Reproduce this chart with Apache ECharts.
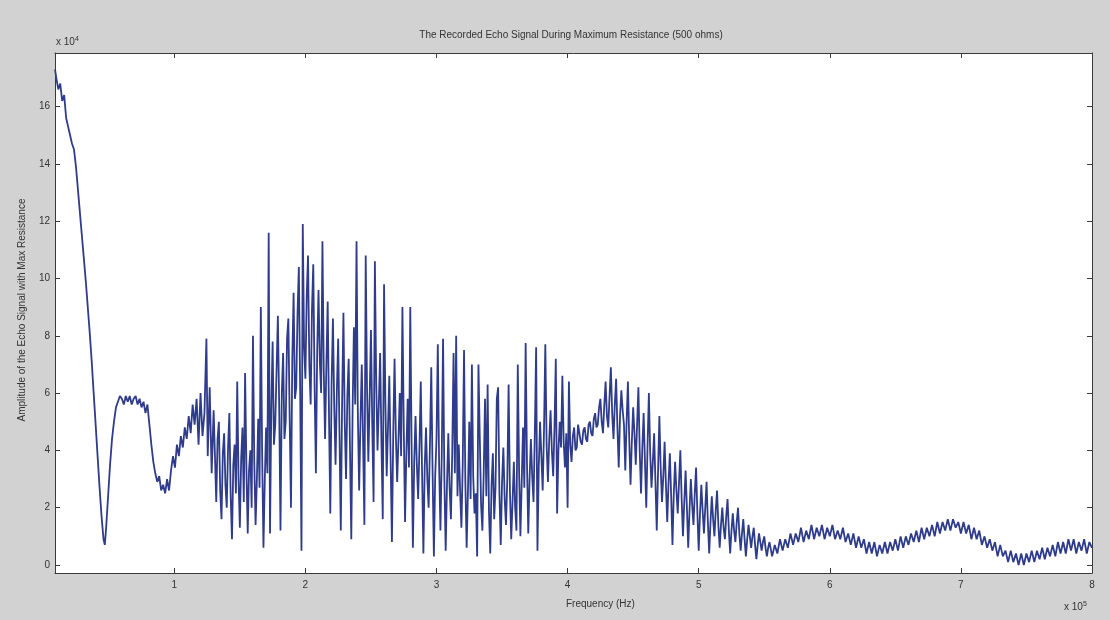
<!DOCTYPE html>
<html>
<head>
<meta charset="utf-8">
<script src="https://cdn.jsdelivr.net/npm/echarts@6/dist/echarts.min.js"></script>
<style>
html,body{margin:0;padding:0;background:#d2d2d2;}
#chart{width:1110px;height:620px;}
</style>
</head>
<body>
<div id="chart"></div>
<script>
// [frequency (x 10^5 Hz), amplitude (x 10^4)], in segments
const onsetSegment = [
[0.09,17.3],[0.10,17.0],[0.115,16.6],[0.13,16.8],[0.145,16.2],[0.16,16.4],[0.175,15.6],[0.19,15.3],[0.205,15.0],[0.22,14.7],
[0.235,14.5],[0.25,13.9],[0.265,13.1],[0.28,12.3],[0.295,11.5],[0.31,10.7],[0.325,9.9],[0.34,9.0],[0.355,8.1],[0.37,7.1],
[0.385,6.0],[0.40,4.9],[0.415,3.8],[0.43,2.7],[0.445,1.7],[0.46,0.9],[0.47,0.7],[0.48,1.3],[0.495,2.4],[0.51,3.5],
[0.525,4.4],[0.54,5.0],[0.555,5.5],[0.57,5.7],[0.585,5.9],[0.60,5.8],[0.615,5.6],[0.63,5.9],[0.645,5.7],[0.66,5.9],
[0.675,5.6],[0.69,5.8],[0.705,5.9],[0.72,5.6],[0.735,5.8],[0.75,5.5],[0.765,5.7],[0.78,5.3],[0.795,5.6],[0.81,4.9],
[0.825,4.2],[0.84,3.6],[0.855,3.2],[0.87,2.9],[0.885,3.1],[0.90,2.6],[0.915,2.8],[0.93,2.5],[0.945,3.0],[0.96,2.6],
[0.975,3.3],[0.99,3.8],[1.005,3.4],[1.02,4.2],[1.035,3.8],[1.05,4.5],[1.065,4.1],[1.08,4.8],[1.095,4.4],[1.11,5.2],
[1.125,4.6],[1.14,5.6],[1.155,4.9],[1.17,5.8],[1.185,4.2],[1.20,6.0],[1.215,4.5],[1.23,5.3],[1.245,7.9],[1.255,3.8],
[1.27,6.2],[1.285,3.2],[1.30,5.4]
];
const denseSegment = [
[1.31,3.8],[1.32,2.2],[1.33,4.4],[1.34,5.0],[1.35,2.6],[1.36,1.6],[1.37,3.9],[1.38,4.6],[1.39,2.8],[1.40,2.0],
[1.41,4.1],[1.42,5.3],[1.43,2.4],[1.44,0.9],[1.45,3.5],[1.46,4.2],[1.47,2.5],[1.48,6.4],[1.49,3.0],[1.50,1.3],
[1.51,3.7],[1.52,4.8],[1.53,2.2],[1.54,6.7],[1.55,3.4],[1.56,1.1],[1.57,3.3],[1.58,4.0],[1.59,2.0],[1.60,8.0],
[1.61,3.6],[1.62,1.4],[1.63,3.0],[1.64,5.1],[1.65,2.7],[1.66,9.0],[1.67,3.9],[1.68,0.6],[1.69,2.9],[1.70,4.8],
[1.71,3.2],[1.72,11.6],[1.73,1.1],[1.74,5.5],[1.75,7.8],[1.76,4.2],[1.77,4.9],[1.78,6.8],[1.79,8.7],[1.80,5.6],
[1.81,1.2],[1.82,6.0],[1.83,7.4],[1.84,4.4],[1.85,5.0],[1.86,7.9],[1.87,8.6],[1.88,5.1],[1.89,2.0],[1.90,7.2],
[1.91,9.5],[1.92,5.8],[1.93,6.2],[1.94,8.8],[1.95,10.4],[1.96,6.1],[1.97,0.5],[1.98,11.9],[1.99,7.6],[2.00,6.5],
[2.01,9.4],[2.02,10.8],[2.03,7.0],[2.04,5.6],[2.05,8.9],[2.06,10.5],[2.07,6.3],[2.08,3.2],[2.09,7.5],[2.10,9.6],
[2.11,7.1],[2.12,6.0],[2.13,11.3],[2.14,6.8],[2.15,4.4],[2.16,7.0],[2.17,9.2],[2.18,5.2],[2.19,1.8],[2.20,6.4],
[2.21,8.6],[2.22,5.5],[2.23,3.5],[2.24,6.1],[2.25,7.9],[2.26,4.6],[2.27,1.2],[2.28,5.7],[2.29,8.8],[2.30,5.0],
[2.31,3.0],[2.32,5.9],[2.33,7.2],[2.34,4.1],[2.35,0.9],[2.36,5.4],[2.37,8.3],[2.38,5.6],[2.39,11.3],[2.40,5.3],
[2.41,2.6],[2.42,5.0],[2.43,7.0],[2.44,4.3],[2.45,1.4],[2.46,10.8],[2.47,6.2],[2.48,3.6],[2.49,5.8],[2.50,8.2],
[2.51,4.9],[2.52,2.2],[2.53,10.6],[2.54,6.4],[2.55,4.0],[2.56,5.6],[2.57,7.4],[2.58,4.3],[2.59,1.6],[2.60,9.8],
[2.61,5.7],[2.62,3.1],[2.63,4.8],[2.64,6.6],[2.65,3.7],[2.66,0.8],[2.67,4.6],[2.68,7.2],[2.69,4.5],[2.70,2.9],
[2.71,4.4],[2.72,6.0],[2.73,3.8],[2.74,9.0],[2.75,4.9],[2.76,1.5],[2.77,3.9],[2.78,5.8],[2.79,3.4],[2.80,9.0],
[2.81,4.2],[2.82,0.6],[2.83,3.6],[2.84,5.2],[2.85,3.5],[2.86,2.3],[2.87,4.1],[2.88,6.4],[2.89,3.2],[2.90,0.4],
[2.91,3.4],[2.92,4.8],[2.93,3.0],[2.94,2.0],[2.95,4.2],[2.96,6.9],[2.97,3.3],[2.98,0.3],[2.99,3.1],[3.00,4.4],
[3.01,7.7],[3.02,3.5],[3.03,1.2],[3.04,3.8],[3.05,7.9],[3.06,3.0],[3.07,0.5],[3.08,2.8],[3.09,4.6],[3.10,2.7],
[3.11,1.6],[3.12,3.9],[3.13,7.4],[3.14,3.2],[3.15,8.0],[3.16,2.4],[3.17,4.2],[3.18,2.6],[3.19,1.3],[3.20,3.5],
[3.21,7.5],[3.22,2.9],[3.23,0.6],[3.24,2.6],[3.25,5.0],[3.26,2.3],[3.27,7.0],[3.28,3.1],[3.29,1.8],[3.30,2.5],
[3.31,0.3],[3.32,7.0],[3.33,4.5],[3.34,2.1],[3.35,1.2],[3.36,3.2],[3.37,5.8],[3.38,2.4],[3.39,6.3],[3.40,1.9],
[3.41,0.4],[3.42,2.8],[3.43,3.9],[3.44,1.6],[3.45,2.7],[3.46,5.8],[3.47,6.2],[3.48,2.5],[3.49,0.7],[3.50,2.9],
[3.51,4.1],[3.52,2.3],[3.53,1.4],[3.54,3.0],[3.55,6.3],[3.56,2.6],[3.57,0.9],[3.58,2.2],[3.59,3.6],[3.60,2.0],
[3.61,1.2],[3.62,7.0],[3.63,3.3],[3.64,1.0],[3.65,2.9],[3.66,4.8],[3.67,2.7],[3.68,7.75],[3.69,3.6],[3.70,1.1],
[3.71,3.0],[3.72,4.4],[3.73,3.1],[3.74,2.2],[3.75,4.6],[3.76,7.6],[3.77,0.5],[3.78,3.4],[3.79,5.0],[3.80,3.8],
[3.81,2.6],[3.82,4.7],[3.83,7.7],[3.84,4.2],[3.85,2.9],[3.86,4.4],[3.87,5.4],[3.88,4.0],[3.89,3.1],[3.90,4.8],
[3.91,7.2],[3.92,1.8],[3.93,4.0],[3.94,5.0],[3.95,4.1],[3.96,6.6],[3.97,4.3],[3.98,3.4],[3.99,4.6],[4.00,2.0]
];
const decaySegment = [
[4.01,6.4],[4.02,4.2],[4.03,3.6],[4.04,4.5],[4.05,4.8],[4.06,4.0],[4.07,4.1],[4.08,4.9],[4.09,4.6],[4.10,4.3],
[4.11,4.2],[4.12,4.7],[4.13,4.8],[4.14,4.4],[4.15,4.3],[4.16,4.9],[4.17,5.0],[4.18,4.6],[4.19,4.5],[4.20,5.1],
[4.21,5.3],[4.22,4.8],[4.23,4.9],[4.24,5.5],[4.25,5.8],[4.26,5.0],[4.27,4.6],[4.28,5.6],[4.29,6.4],[4.30,5.2],
[4.31,4.8],[4.32,5.9],[4.33,6.9],[4.34,5.3],[4.35,4.4],[4.36,5.6],[4.37,6.5],[4.38,4.8],[4.39,3.4],[4.40,5.2],
[4.41,6.1],[4.42,5.4],[4.43,4.9],[4.44,3.3],[4.45,5.0],[4.46,6.4],[4.47,4.4],[4.48,2.8],[4.49,4.3],[4.50,5.5],
[4.51,4.6],[4.52,3.5],[4.53,4.9],[4.54,6.2],[4.55,4.0],[4.56,2.5],[4.57,4.1],[4.58,5.3],[4.59,3.6],[4.60,2.0],
[4.61,4.2],[4.62,6.0],[4.63,3.9],[4.64,2.7],[4.65,3.6],[4.66,4.6],[4.67,2.9],[4.68,1.2],[4.69,3.3],[4.70,5.2],
[4.71,3.4],[4.72,2.2],[4.73,3.1],[4.74,4.3],[4.75,2.8],[4.76,1.5],[4.77,2.9],[4.78,3.9],[4.79,2.4],[4.80,0.7],
[4.81,2.5],[4.82,3.6],[4.83,2.6],[4.84,1.8],[4.85,2.9],[4.86,4.0],[4.87,2.3],[4.88,1.0],[4.89,2.2],[4.90,3.3],
[4.91,2.0],[4.92,0.6],[4.93,1.9],[4.94,3.0],[4.95,2.1],[4.96,1.4],[4.97,2.5],[4.98,3.4],[4.99,1.8],[5.00,0.5],
[5.01,1.8],[5.02,2.8],[5.03,1.9],[5.04,1.1],[5.05,2.0],[5.06,2.9],[5.07,1.5],[5.08,0.4],[5.09,1.5],[5.10,2.4],
[5.11,1.6],[5.12,1.0],[5.13,1.9],[5.14,2.6],[5.15,1.4],[5.16,0.6],[5.17,1.4],[5.18,2.0],[5.19,1.3],[5.20,0.9],
[5.21,1.7],[5.22,2.3],[5.23,1.2],[5.24,0.4],[5.25,1.2],[5.26,1.8],[5.27,1.2],[5.28,0.8],[5.29,1.5],[5.30,2.0],
[5.31,1.1],[5.32,0.5],[5.33,1.1],[5.34,1.6],[5.35,0.9],[5.36,0.3],[5.37,0.9],[5.38,1.4],[5.39,1.0],[5.40,0.6],
[5.41,1.0],[5.42,1.3],[5.43,0.7],[5.44,0.2],[5.45,0.7],[5.46,1.1],[5.47,0.8],[5.48,0.5],[5.49,0.8],[5.50,1.0],
[5.51,0.6],[5.52,0.3],[5.53,0.6],[5.54,0.8]
];
const tailSegment = [
[5.56,0.3],[5.58,0.7],[5.60,0.4],[5.62,0.9],[5.64,0.5],[5.66,0.9],[5.68,0.6],[5.70,1.1],[5.72,0.7],[5.74,1.1],
[5.76,0.8],[5.78,1.3],[5.80,0.8],[5.82,1.2],[5.84,0.9],[5.86,1.4],[5.88,0.9],[5.90,1.3],[5.92,1.0],[5.94,1.4],
[5.96,0.9],[5.98,1.3],[6.00,1.0],[6.02,1.4],[6.04,0.9],[6.06,1.2],[6.08,0.9],[6.10,1.3],[6.12,0.8],[6.14,1.1],
[6.16,0.7],[6.18,1.1],[6.20,0.6],[6.22,1.0],[6.24,0.6],[6.26,0.9],[6.28,0.4],[6.30,0.8],[6.32,0.4],[6.34,0.8],
[6.36,0.3],[6.38,0.7],[6.40,0.4],[6.42,0.8],[6.44,0.4],[6.46,0.8],[6.48,0.5],[6.50,0.9],[6.52,0.5],[6.54,1.0],
[6.56,0.6],[6.58,1.0],[6.60,0.7],[6.62,1.1],[6.64,0.8],[6.66,1.2],[6.68,0.8],[6.70,1.3],[6.72,0.9],[6.74,1.3],
[6.76,1.0],[6.78,1.4],[6.80,1.0],[6.82,1.5],[6.84,1.1],[6.86,1.5],[6.88,1.2],[6.90,1.6],[6.92,1.2],[6.94,1.6],
[6.96,1.3],[6.98,1.5],[7.00,1.1],[7.02,1.5],[7.04,1.1],[7.06,1.4],[7.08,0.9],[7.10,1.3],[7.12,0.9],[7.14,1.2],
[7.16,0.7],[7.18,1.0],[7.20,0.6],[7.22,0.9],[7.24,0.5],[7.26,0.8],[7.28,0.3],[7.30,0.7],[7.32,0.3],[7.34,0.5],
[7.36,0.1],[7.38,0.5],[7.40,0.1],[7.42,0.4],[7.44,0.0],[7.46,0.4],[7.48,0.0],[7.50,0.4],[7.52,0.1],[7.54,0.5],
[7.56,0.1],[7.58,0.5],[7.60,0.2],[7.62,0.6],[7.64,0.2],[7.66,0.6],[7.68,0.3],[7.70,0.7],[7.72,0.3],[7.74,0.8],
[7.76,0.4],[7.78,0.8],[7.80,0.4],[7.82,0.9],[7.84,0.5],[7.86,0.9],[7.88,0.4],[7.90,0.8],[7.92,0.5],[7.94,0.9],
[7.96,0.4],[7.98,0.8],[8.00,0.6]
];
const xTicks = [1,2,3,4,5,6,7,8];
const yTicks = [0,2,4,6,8,10,12,14,16];
const titleText = 'The Recorded Echo Signal During Maximum Resistance (500 ohms)';
const xName = 'Frequency (Hz)';
const yName = 'Amplitude of the Echo Signal with Max Resistance';

const points = onsetSegment.concat(denseSegment, decaySegment, tailSegment);
const XMIN = 0.09, XMAX = 8, YMIN = -0.28, YMAX = 17.87;
const axisColor = '#3a3a3a';
const FONT = 'Liberation Sans, Arial, sans-serif';
const labelStyle = {color: '#333', fontSize: 10, fontFamily: FONT};

function xAx(pos, showLabel) {
  return {
    type: 'value', position: pos, min: XMIN, max: XMAX,
    splitLine: {show: false},
    axisLine: {show: true, onZero: false, lineStyle: {color: axisColor, width: 1}},
    axisTick: {show: true, inside: true, length: 5, customValues: xTicks, lineStyle: {color: axisColor}},
    axisLabel: Object.assign({show: showLabel, margin: 7, customValues: xTicks}, labelStyle)
  };
}
function yAx(pos, showLabel) {
  return {
    type: 'value', position: pos, min: YMIN, max: YMAX,
    splitLine: {show: false},
    axisLine: {show: true, onZero: false, lineStyle: {color: axisColor, width: 1}},
    axisTick: {show: true, inside: true, length: 5, customValues: yTicks, lineStyle: {color: axisColor}},
    axisLabel: Object.assign({show: showLabel, margin: 5, customValues: yTicks}, labelStyle)
  };
}

const chart = echarts.init(document.getElementById('chart'), null, {renderer: 'canvas'});
chart.setOption({
  backgroundColor: '#d2d2d2',
  animation: false,
  title: {
    text: titleText, left: 566, top: 25, textAlign: 'center',
    textStyle: {fontSize: 10, fontWeight: 'normal', color: '#333', fontFamily: FONT}
  },
  grid: {left: 55, right: 18, top: 53, bottom: 47, show: true, backgroundColor: '#ffffff', borderWidth: 0},
  xAxis: [xAx('bottom', true), xAx('top', false)],
  yAxis: [yAx('left', true), yAx('right', false)],
  graphic: [
    {type: 'text', left: 566, top: 599, style: {text: xName, fill: '#333', fontSize: 10, fontFamily: FONT, textAlign: 'center'}},
    {type: 'text', x: 22, y: 310, rotation: Math.PI / 2, style: {text: yName, fill: '#333', fontSize: 10, fontFamily: FONT, textAlign: 'center', textVerticalAlign: 'middle'}},
    {type: 'text', x: 56, y: 36, style: {text: 'x 10{s|4}', rich: {s: {fontSize: 7, verticalAlign: 'top', padding: [0,0,6,0]}}, fill: '#333', fontSize: 10, fontFamily: FONT}},
    {type: 'text', x: 1064, y: 601, style: {text: 'x 10{s|5}', rich: {s: {fontSize: 7, verticalAlign: 'top', padding: [0,0,6,0]}}, fill: '#333', fontSize: 10, fontFamily: FONT}}
  ],
  series: [{
    type: 'line', data: points, showSymbol: false, sampling: null,
    xAxisIndex: 0, yAxisIndex: 0,
    lineStyle: {color: '#2f3c8c', width: 1.8},
    clip: true
  }]
});
</script>
</body>
</html>
